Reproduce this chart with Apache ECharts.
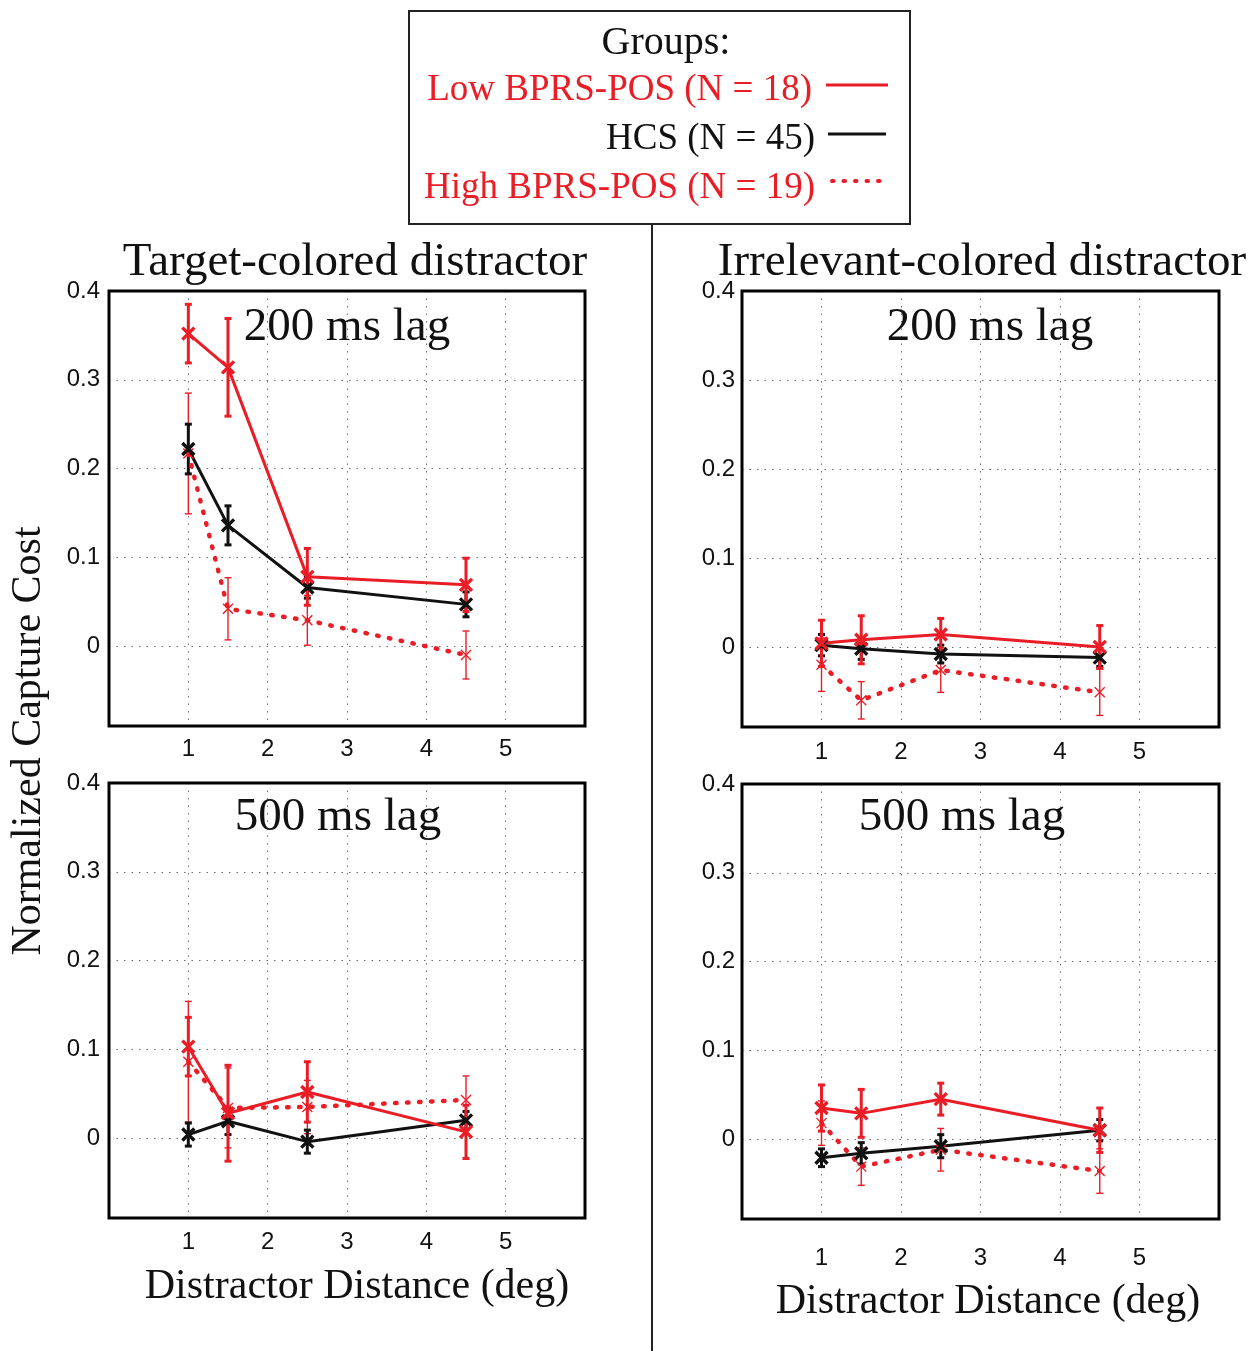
<!DOCTYPE html>
<html><head><meta charset="utf-8">
<script src="https://cdn.jsdelivr.net/npm/echarts@6/dist/echarts.min.js"></script>
<style>html,body{margin:0;padding:0;background:#fff}#c{width:1256px;height:1351px}</style>
</head><body><div id="c"></div>
<script>
// ---------- DATA ----------
const distances = [1, 1.5, 2.5, 4.5];
const xTicks = [1, 2, 3, 4, 5];
const yTicks = [0, 0.1, 0.2, 0.3, 0.4];
const groupNames = ['Low BPRS-POS (N = 18)', 'HCS (N = 45)', 'High BPRS-POS (N = 19)'];
const columnTitles = ['Target-colored distractor', 'Irrelevant-colored distractor'];
const lagLabels = ['200 ms lag', '500 ms lag'];
const xAxisTitle = 'Distractor Distance (deg)';
const yAxisTitle = 'Normalized Capture Cost';

// Target-colored, 200 ms
const target200Low = [0.352, 0.314, 0.078, 0.069];
const target200LowErr = [0.033, 0.055, 0.032, 0.030];
const target200Hcs = [0.222, 0.136, 0.066, 0.047];
const target200HcsErr = [0.028, 0.022, 0.012, 0.014];
const target200High = [0.217, 0.042, 0.029, -0.010];
const target200HighErr = [0.068, 0.035, 0.028, 0.027];

// Irrelevant-colored, 200 ms
const irrel200Low = [0.004, 0.008, 0.014, 0.000];
const irrel200LowErr = [0.026, 0.027, 0.018, 0.024];
const irrel200Hcs = [0.002, -0.002, -0.008, -0.012];
const irrel200HcsErr = [0.012, 0.012, 0.010, 0.010];
const irrel200High = [-0.020, -0.060, -0.026, -0.051];
const irrel200HighErr = [0.030, 0.021, 0.025, 0.026];

// Target-colored, 500 ms
const target500Low = [0.103, 0.028, 0.052, 0.007];
const target500LowErr = [0.033, 0.054, 0.034, 0.030];
const target500Hcs = [0.004, 0.019, -0.004, 0.020];
const target500HcsErr = [0.013, 0.015, 0.013, 0.010];
const target500High = [0.086, 0.034, 0.035, 0.043];
const target500HighErr = [0.068, 0.045, 0.030, 0.027];

// Irrelevant-colored, 500 ms
const irrel500Low = [0.035, 0.029, 0.045, 0.010];
const irrel500LowErr = [0.026, 0.027, 0.018, 0.025];
const irrel500Hcs = [-0.021, -0.016, -0.008, 0.010];
const irrel500HcsErr = [0.010, 0.012, 0.013, 0.012];
const irrel500High = [0.018, -0.031, -0.012, -0.036];
const irrel500HighErr = [0.025, 0.021, 0.024, 0.025];

// ---------- LAYOUT / STYLE ----------
const SERIF = "'Liberation Serif','Times New Roman',serif";
const SANS = "'Liberation Sans',Arial,Helvetica,sans-serif";
const RED = '#ea1d26';
const BLACK = '#111111';
const XPATH = 'path://M0,0L10,10M0,10L10,0';

const panels = [
  {grid: {left: 109, top: 291, width: 476, height: 435}, xMargin: 11, yMargin: 9,
   low: target200Low, lowErr: target200LowErr, hcs: target200Hcs, hcsErr: target200HcsErr, high: target200High, highErr: target200HighErr},
  {grid: {left: 742, top: 291, width: 477, height: 436}, xMargin: 13, yMargin: 7,
   low: irrel200Low, lowErr: irrel200LowErr, hcs: irrel200Hcs, hcsErr: irrel200HcsErr, high: irrel200High, highErr: irrel200HighErr},
  {grid: {left: 109, top: 783, width: 476, height: 435}, xMargin: 12, yMargin: 9,
   low: target500Low, lowErr: target500LowErr, hcs: target500Hcs, hcsErr: target500HcsErr, high: target500High, highErr: target500HighErr},
  {grid: {left: 742, top: 784, width: 477, height: 435}, xMargin: 27, yMargin: 7,
   low: irrel500Low, lowErr: irrel500LowErr, hcs: irrel500Hcs, hcsErr: irrel500HcsErr, high: irrel500High, highErr: irrel500HighErr}
];

const grids = [], xAxes = [], yAxes = [], series = [], graphics = [];
const gridLine = {show: true, lineStyle: {type: [1.5, 6], color: '#6e6e6e', width: 1}};

function errSeries(gi, vals, errs, color, width, cap) {
  return {
    type: 'custom', xAxisIndex: gi, yAxisIndex: gi, silent: true, animation: false,
    data: distances.map((d, i) => [d, vals[i] - errs[i], vals[i] + errs[i]]),
    encode: {x: 0, y: [1, 2]},
    renderItem(params, api) {
      const x = api.value(0);
      const a = api.coord([x, api.value(1)]);
      const b = api.coord([x, api.value(2)]);
      const st = {stroke: color, lineWidth: width};
      return {type: 'group', children: [
        {type: 'line', shape: {x1: a[0], y1: a[1], x2: b[0], y2: b[1]}, style: st},
        {type: 'line', shape: {x1: a[0] - cap, y1: a[1], x2: a[0] + cap, y2: a[1]}, style: st},
        {type: 'line', shape: {x1: b[0] - cap, y1: b[1], x2: b[0] + cap, y2: b[1]}, style: st}
      ]};
    }
  };
}
function lineSeries(gi, name, vals, color, width, dash, symSize, symWidth) {
  return {
    type: 'line', name: name, xAxisIndex: gi, yAxisIndex: gi, animation: false, silent: true,
    data: distances.map((d, i) => [d, vals[i]]),
    lineStyle: {color: color, width: width, type: dash, cap: 'round'},
    symbol: XPATH, symbolSize: symSize, showSymbol: true,
    itemStyle: {color: color, borderColor: color, borderWidth: symWidth}
  };
}

panels.forEach((p, gi) => {
  grids.push(Object.assign({containLabel: false, show: false}, p.grid));
  xAxes.push({
    type: 'value', gridIndex: gi, min: 0, max: 6, interval: 1,
    axisLine: {show: false}, axisTick: {show: false},
    axisLabel: {customValues: xTicks, fontFamily: SANS, fontSize: 24, color: BLACK, margin: p.xMargin},
    splitLine: gridLine
  });
  yAxes.push({
    type: 'value', gridIndex: gi, min: -0.09, max: 0.4, minInterval: 0.1, maxInterval: 0.1,
    axisLine: {show: false}, axisTick: {show: false},
    axisLabel: {customValues: yTicks, fontFamily: SANS, fontSize: 24, color: BLACK, margin: p.yMargin,
      padding: [5, 0, 0, 0]},
    splitLine: gridLine
  });
  series.push(errSeries(gi, p.high, p.highErr, RED, 1.4, 3.5));
  series.push(lineSeries(gi, groupNames[2], p.high, RED, 4.5, [1.5, 10.5], 10, 1.4));
  series.push(errSeries(gi, p.hcs, p.hcsErr, BLACK, 3, 3.5));
  series.push(lineSeries(gi, groupNames[1], p.hcs, BLACK, 3, 'solid', 12, 3.4));
  series.push(errSeries(gi, p.low, p.lowErr, RED, 3, 3.5));
  series.push(lineSeries(gi, groupNames[0], p.low, RED, 3, 'solid', 12, 3.4));
  graphics.push({type: 'rect', z: 100, silent: true,
    shape: {x: p.grid.left, y: p.grid.top, width: p.grid.width, height: p.grid.height},
    style: {fill: null, stroke: '#000', lineWidth: 3}});
});

function txt(text, x, y, size, color, align, rot) {
  return {type: 'text', x: x, y: y, rotation: rot || 0, z: 100, silent: true,
    style: {text: text, font: size + 'px ' + SERIF, fill: color,
      textAlign: align || 'center', align: align || 'center',
      textVerticalAlign: 'middle', verticalAlign: 'middle'}};
}

// column titles & panel labels
graphics.push(txt(columnTitles[0], 355, 263, 47, BLACK));
graphics.push(txt(columnTitles[1], 982, 263, 47, BLACK));
graphics.push(txt(lagLabels[0], 347, 328, 47, BLACK));
graphics.push(txt(lagLabels[0], 990, 328, 47, BLACK));
graphics.push(txt(lagLabels[1], 338, 818, 47, BLACK));
graphics.push(txt(lagLabels[1], 962, 818, 47, BLACK));
// axis titles
graphics.push(txt(yAxisTitle, 29, 741, 42, BLACK, 'center', Math.PI / 2));
graphics.push(txt(xAxisTitle, 357, 1287, 42, BLACK));
graphics.push(txt(xAxisTitle, 988, 1302, 42, BLACK));
// separator
graphics.push({type: 'line', silent: true, shape: {x1: 652, y1: 224, x2: 652, y2: 1351}, style: {stroke: '#222', lineWidth: 2}});
// legend box
graphics.push({type: 'rect', silent: true, z: 100, shape: {x: 409, y: 11, width: 501, height: 213}, style: {fill: '#fff', stroke: '#222', lineWidth: 2}});
graphics.push(txt('Groups:', 666, 43, 40, BLACK));
graphics.push(txt(groupNames[0], 812, 90, 37, RED, 'right'));
graphics.push(txt(groupNames[1], 815, 139, 37, BLACK, 'right'));
graphics.push(txt(groupNames[2], 815, 188, 37, RED, 'right'));
graphics.push({type: 'line', silent: true, z: 101, shape: {x1: 826, y1: 85, x2: 888, y2: 85}, style: {stroke: RED, lineWidth: 3}});
graphics.push({type: 'line', silent: true, z: 101, shape: {x1: 828, y1: 134, x2: 886, y2: 134}, style: {stroke: BLACK, lineWidth: 3}});
graphics.push({type: 'line', silent: true, z: 101, shape: {x1: 832, y1: 181, x2: 884, y2: 181}, style: {stroke: RED, lineWidth: 4, lineDash: [1.5, 10], lineCap: 'round'}});

const chart = echarts.init(document.getElementById('c'), null, {renderer: 'canvas'});
chart.setOption({
  animation: false,
  backgroundColor: '#fff',
  textStyle: {fontFamily: SANS},
  grid: grids, xAxis: xAxes, yAxis: yAxes, series: series, graphic: graphics
});
</script></body></html>
